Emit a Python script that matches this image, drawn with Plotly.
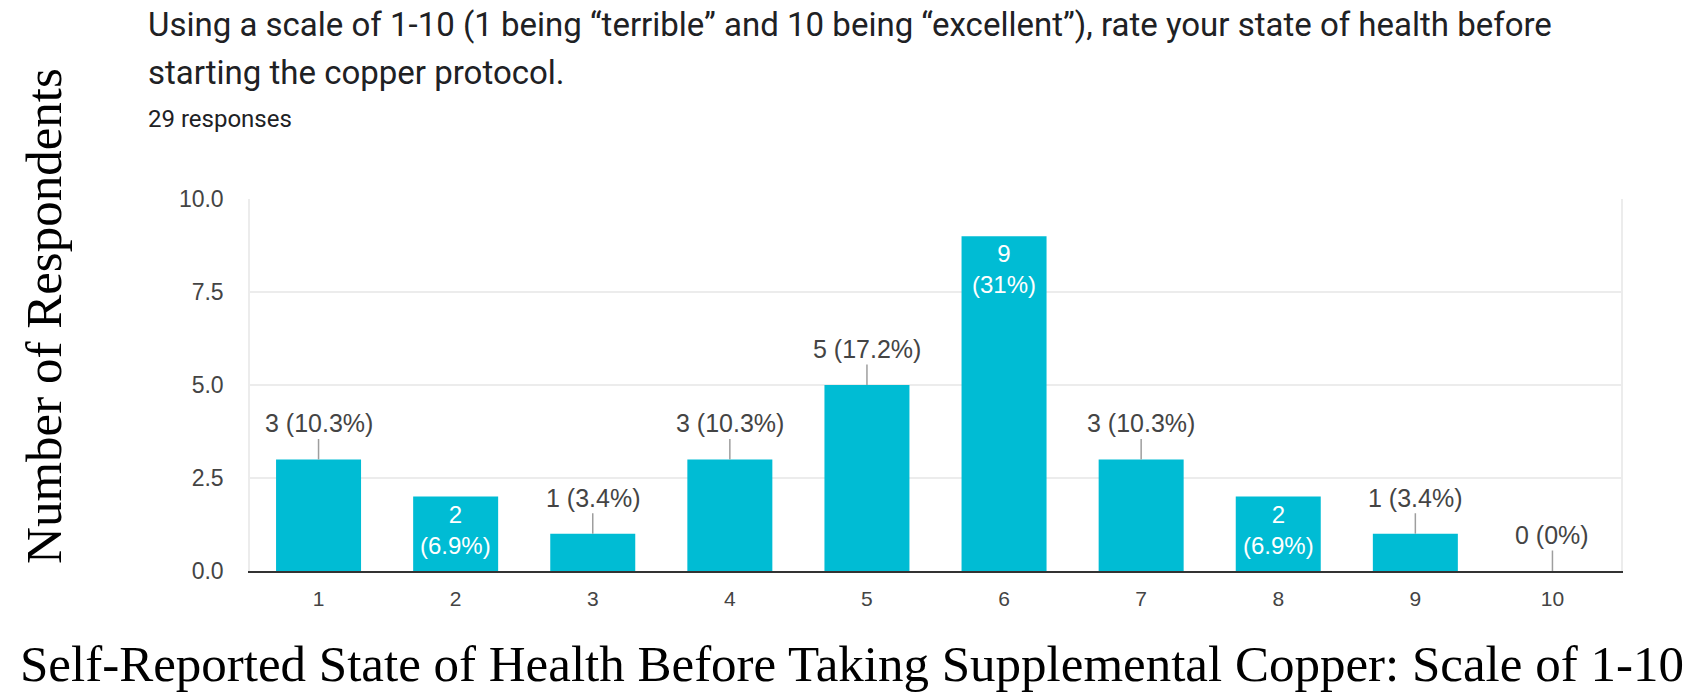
import plotly.graph_objects as go

# Survey results: rating of health before starting the copper protocol
ratings = [1, 2, 3, 4, 5, 6, 7, 8, 9, 10]
counts = [3, 2, 1, 3, 5, 9, 3, 2, 1, 0]
total_responses = 29
# Which bars carry their value label inside the bar (white text)
label_inside = [False, True, False, False, False, True, False, True, False, False]

question_line1 = "Using a scale of 1-10 (1 being \u201cterrible\u201d and 10 being \u201cexcellent\u201d), rate your state of health before"
question_line2 = "starting the copper protocol."
responses_text = f"{total_responses} responses"
y_title = "Number of Respondents"
x_title = "Self-Reported State of Health Before Taking Supplemental Copper: Scale of 1-10"

BAR_COLOR = "#00BCD4"
TEXT_GREY = "#444444"
SANS = "Liberation Sans, Arial, sans-serif"
SERIF = "Liberation Serif, Times New Roman, serif"
HEAD = "Roboto, sans-serif"


def pct_text(v):
    p = f"{v / total_responses * 100:.1f}"
    if p.endswith(".0"):
        p = p[:-2]
    return p + "%"


fig = go.Figure()
fig.add_trace(go.Bar(
    x=ratings, y=counts, width=0.62,
    marker=dict(color=BAR_COLOR, line=dict(width=0)),
    hoverinfo="skip",
))

annotations = []
for r, v, inside in zip(ratings, counts, label_inside):
    if inside:
        annotations.append(dict(
            x=r, y=v, xref="x", yref="y",
            text=f"{v}<br>({pct_text(v)})",
            showarrow=False, yanchor="top", yshift=-2,
            font=dict(family=SANS, size=24, color="white"),
        ))
    else:
        annotations.append(dict(
            x=r, y=v, xref="x", yref="y",
            text=f"{v} ({pct_text(v)})",
            showarrow=True, arrowhead=0, arrowwidth=1.5, arrowcolor="#9e9e9e",
            ax=0, ay=-36,
            font=dict(family=SANS, size=25, color=TEXT_GREY),
        ))

# Question text above the chart
annotations += [
    dict(x=-0.0755, y=1.4704, xref="paper", yref="paper", xanchor="left", yanchor="middle",
         text=question_line1, showarrow=False,
         font=dict(family=HEAD, size=33, color="#202124")),
    dict(x=-0.0755, y=1.34, xref="paper", yref="paper", xanchor="left", yanchor="middle",
         text=question_line2, showarrow=False,
         font=dict(family=HEAD, size=33, color="#202124")),
    dict(x=-0.0755, y=1.215, xref="paper", yref="paper", xanchor="left", yanchor="middle",
         text=responses_text, showarrow=False,
         font=dict(family=HEAD, size=24, color="#202124")),
    # Axis titles
    dict(x=-0.1503, y=0.6855, xref="paper", yref="paper", xanchor="center", yanchor="middle",
         text=y_title, textangle=-90, showarrow=False,
         font=dict(family=SERIF, size=51, color="black")),
    dict(x=0.439, y=-0.25, xref="paper", yref="paper", xanchor="center", yanchor="middle",
         text=x_title, showarrow=False,
         font=dict(family=SERIF, size=51, color="black")),
]

fig.update_layout(
    width=1702, height=697,
    margin=dict(l=250, r=81, t=199, b=126),
    paper_bgcolor="white", plot_bgcolor="white",
    showlegend=False,
    annotations=annotations,
    xaxis=dict(
        range=[0.5, 10.5], tickvals=ratings, ticktext=[str(r) for r in ratings],
        showgrid=False, showline=True, linecolor="#333333", linewidth=2,
        ticks="", ticklabelstandoff=8,
        tickfont=dict(family=SANS, size=21, color=TEXT_GREY),
        zeroline=False,
    ),
    yaxis=dict(
        range=[0, 10], tickvals=[0, 2.5, 5, 7.5, 10],
        ticktext=["0.0", "2.5", "5.0", "7.5", "10.0"],
        showgrid=True, gridcolor="#ececec", gridwidth=1.5,
        showline=True, mirror=True, linecolor="#ececec", linewidth=1.5,
        zeroline=False, ticks="", ticklabelstandoff=20,
        tickfont=dict(family=SANS, size=23, color=TEXT_GREY),
    ),
)

fig.write_html("out.html")
